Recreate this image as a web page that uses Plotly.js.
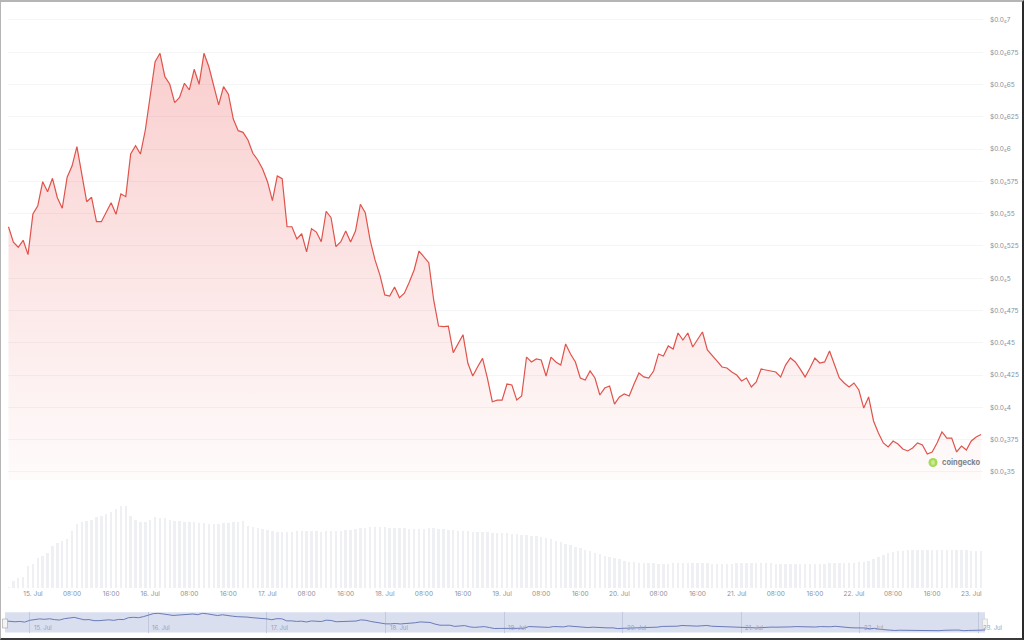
<!DOCTYPE html>
<html>
<head>
<meta charset="utf-8">
<script src="https://cdn.plot.ly/plotly-3.0.1.min.js"></script>
<style>
  html, body { margin: 0; padding: 0; background: #fff; }
  #wrap { position: relative; width: 1024px; height: 640px; }
  #chart { position: absolute; left: 0; top: 0; width: 1024px; height: 640px; }
  #frame { position: absolute; left: 0; top: 0; width: 1024px; height: 640px; box-sizing: border-box;
           border-left: 1px solid #b5b5b5; border-top: 2px solid #b5b5b5; border-right: 2px solid #2a2a2a; border-bottom: 2px solid #3a3a3a;
           pointer-events: none; }
</style>
</head>
<body>
<div id="wrap"><div id="chart"></div><div id="frame"></div></div>
<script>
// Hourly series starting 2024-07-14 19:00; price in units of $0.000001 (µ$)
const startTime = '2024-07-14 19:00';
const priceMicroUsd = [
  5.399, 5.279, 5.240, 5.294, 5.183, 5.498, 5.562, 5.748, 5.670, 5.774,
  5.624, 5.542, 5.782, 5.869, 6.019, 5.805, 5.593, 5.627, 5.438, 5.438,
  5.511, 5.585, 5.495, 5.653, 5.632, 5.962, 6.027, 5.962, 6.148, 6.419,
  6.677, 6.742, 6.561, 6.502, 6.360, 6.401, 6.510, 6.458, 6.618, 6.502,
  6.742, 6.638, 6.497, 6.342, 6.484, 6.425, 6.233, 6.143, 6.130, 6.071,
  5.968, 5.916, 5.846, 5.748, 5.601, 5.792, 5.771, 5.399, 5.399, 5.304,
  5.345, 5.204, 5.384, 5.358, 5.283, 5.519, 5.469, 5.245, 5.283, 5.366,
  5.281, 5.366, 5.573, 5.508, 5.296, 5.142, 5.025, 4.871, 4.863, 4.932,
  4.850, 4.884, 4.969, 5.064, 5.211, 5.167, 5.121, 4.832, 4.630, 4.625,
  4.630, 4.424, 4.497, 4.563, 4.342, 4.243, 4.315, 4.380, 4.225, 4.044,
  4.057, 4.057, 4.181, 4.174, 4.057, 4.088, 4.390, 4.352, 4.375, 4.367,
  4.243, 4.390, 4.352, 4.328, 4.491, 4.414, 4.352, 4.228, 4.212, 4.282,
  4.228, 4.096, 4.150, 4.166, 4.026, 4.081, 4.104, 4.088, 4.181, 4.267,
  4.236, 4.228, 4.282, 4.414, 4.398, 4.476, 4.452, 4.576, 4.522, 4.576,
  4.468, 4.522, 4.584, 4.445, 4.406, 4.359, 4.313, 4.305, 4.274, 4.251,
  4.205, 4.228, 4.158, 4.197, 4.297, 4.290, 4.282, 4.274, 4.236, 4.328,
  4.383, 4.352, 4.297, 4.236, 4.305, 4.383, 4.344, 4.352, 4.437, 4.328,
  4.228, 4.189, 4.158, 4.189, 4.135, 3.995, 4.081, 3.895, 3.802, 3.725,
  3.694, 3.740, 3.717, 3.678, 3.663, 3.686, 3.725, 3.709, 3.639, 3.655,
  3.725, 3.810, 3.763, 3.763, 3.655, 3.701, 3.670, 3.740, 3.771, 3.790
];
const volume = [
  1.3, 7.3, 9.7, 11.3, 21.7, 24, 29.7, 32.3, 34.7, 42.3,
  44.7, 47.3, 49, 57.3, 64, 65.7, 67.3, 68.3, 70.7, 72.3,
  74, 76.3, 79, 81.7, 82.3, 72.3, 68.3, 66.3, 65.7, 68.3,
  70.7, 70, 69.7, 68.3, 67.3, 67, 66, 65.7, 65.7, 65,
  64.7, 64, 64, 64.3, 65, 65.3, 65.7, 66, 66.7, 62.3,
  60.7, 59.7, 59, 58, 56.7, 55.7, 55.7, 56.3, 56.3, 56.7,
  57, 57, 57, 57, 56, 57, 57, 57, 57, 58, 58,
  59, 60, 60, 61, 61, 61, 61, 60, 60, 60, 60, 59, 59, 59, 59, 60, 60, 59, 59, 58,
  58, 57, 57, 57, 56, 56, 56, 56, 55, 55, 55, 55, 54, 54, 53, 53, 52, 52, 51, 50,
  49, 47, 46, 44, 43, 41, 40, 38, 37, 35, 34, 32, 31, 30, 29,
  27, 26, 26, 25, 25, 25, 25, 24, 24, 24, 25, 25, 25, 25, 25, 25, 25, 25, 24, 24,
  24, 24, 24, 25, 25, 25, 25, 25, 25, 25, 25, 24, 24, 24, 24, 24, 24, 24, 24, 24,
  24, 24, 25, 25, 25, 25, 25, 25, 26, 26, 27,
  29, 31, 33, 35, 36, 37, 37, 38, 38, 38, 38, 38, 38, 38, 38, 38, 38, 38, 38, 38, 37, 37, 37
];
const priceTickVals = [3.5, 3.75, 4, 4.25, 4.5, 4.75, 5, 5.25, 5.5, 5.75, 6, 6.25, 6.5, 6.75, 7];
const priceTickText = ['$0.0₅35', '$0.0₅375', '$0.0₅4', '$0.0₅425', '$0.0₅45', '$0.0₅475', '$0.0₅5',
  '$0.0₅525', '$0.0₅55', '$0.0₅575', '$0.0₅6', '$0.0₅625', '$0.0₅65', '$0.0₅675', '$0.0₅7'];
const timeTickVals = [
  '2024-07-15 00:00', '2024-07-15 08:00', '2024-07-15 16:00',
  '2024-07-16 00:00', '2024-07-16 08:00', '2024-07-16 16:00',
  '2024-07-17 00:00', '2024-07-17 08:00', '2024-07-17 16:00',
  '2024-07-18 00:00', '2024-07-18 08:00', '2024-07-18 16:00',
  '2024-07-19 00:00', '2024-07-19 08:00', '2024-07-19 16:00',
  '2024-07-20 00:00', '2024-07-20 08:00', '2024-07-20 16:00',
  '2024-07-21 00:00', '2024-07-21 08:00', '2024-07-21 16:00',
  '2024-07-22 00:00', '2024-07-22 08:00', '2024-07-22 16:00',
  '2024-07-23 00:00'
];
const timeTickText = [
  '15. Jul', '08:00', '16:00', '16. Jul', '08:00', '16:00', '17. Jul', '08:00', '16:00',
  '18. Jul', '08:00', '16:00', '19. Jul', '08:00', '16:00', '20. Jul', '08:00', '16:00',
  '21. Jul', '08:00', '16:00', '22. Jul', '08:00', '16:00', '23. Jul'
];
const navDayVals = ['2024-07-15 00:00', '2024-07-16 00:00', '2024-07-17 00:00', '2024-07-18 00:00',
  '2024-07-19 00:00', '2024-07-20 00:00', '2024-07-21 00:00', '2024-07-22 00:00', '2024-07-23 00:00'];
const navDayText = ['15. Jul', '16. Jul', '17. Jul', '18. Jul', '19. Jul', '20. Jul', '21. Jul', '22. Jul', '23. Jul'];

function pad(n) { return (n < 10 ? '0' : '') + n; }
function fmt(ms) {
  const d = new Date(ms);
  return d.getUTCFullYear() + '-' + pad(d.getUTCMonth() + 1) + '-' + pad(d.getUTCDate()) + ' ' +
         pad(d.getUTCHours()) + ':' + pad(d.getUTCMinutes());
}
const t0 = Date.UTC(2024, 6, 14, 19, 0);
const HOUR = 3600000;
const times = priceMicroUsd.map((_, i) => fmt(t0 + i * HOUR));
const vtimes = volume.map((_, i) => fmt(t0 + i * HOUR));

const mainRange = [fmt(t0 - 0.1 * HOUR), fmt(t0 + 199.4 * HOUR)];
const navRange = [fmt(t0), fmt(t0 + 198.3 * HOUR)];

const traces = [
  {
    type: 'bar', x: vtimes, y: volume, xaxis: 'x', yaxis: 'y2',
    marker: { color: '#eff0f3', line: { width: 0 } }, width: 0.5 * HOUR, hoverinfo: 'skip'
  },
  {
    type: 'scatter', mode: 'lines', x: times, y: priceMicroUsd, xaxis: 'x', yaxis: 'y',
    line: { color: '#e0534b', width: 1.2 },
    fill: 'tozeroy',
    fillgradient: { type: 'vertical', start: 3.44, stop: 6.75,
      colorscale: [[0, 'rgba(234,67,67,0.02)'], [1, 'rgba(234,67,67,0.26)']] },
    hoverinfo: 'skip'
  },
  {
    type: 'scatter', mode: 'lines', x: times, y: priceMicroUsd, xaxis: 'x2', yaxis: 'y3',
    line: { color: '#5b6fb3', width: 0.9 }, hoverinfo: 'skip'
  }
];

const px = v => (v - 5) / 980;      // pixel x -> paper x
const py = v => (640 - v) / 640;    // pixel y -> paper y

const annotations = navDayVals.map((d, i) => ({
  x: d, xref: 'x2', y: py(627), yref: 'paper', text: navDayText[i], showarrow: false,
  xanchor: 'left', yanchor: 'middle', xshift: 2,
  font: { family: 'Inter, Lato, sans-serif', size: 6, color: '#9aa0b8' }
}));
annotations.push({
  x: px(940), y: py(462.5), xref: 'paper', yref: 'paper', text: '<b>coingecko</b>', showarrow: false,
  xanchor: 'left', yanchor: 'middle', font: { family: 'Inter, Lato, sans-serif', size: 7.5, color: '#7d8189' }
});

const layout = {
  width: 1024, height: 640,
  margin: { l: 5, r: 39, t: 0, b: 0 },
  paper_bgcolor: '#ffffff', plot_bgcolor: 'rgba(0,0,0,0)',
  showlegend: false,
  bargap: 0,
  font: { family: 'Inter, Lato, sans-serif' },
  xaxis: {
    domain: [px(8), px(983)], anchor: 'y2', type: 'date', range: mainRange,
    tickmode: 'array', tickvals: timeTickVals, ticktext: timeTickText,
    tickfont: { size: 6.5, color: '#8a8f98' }, showgrid: false, zeroline: false, showline: false,
    ticks: '', fixedrange: true
  },
  yaxis: {
    domain: [py(480), py(5)], anchor: 'x', side: 'right', range: [3.438, 7.116],
    tickmode: 'array', tickvals: priceTickVals, ticktext: priceTickText,
    tickfont: { size: 6.5, color: '#8a8f98' }, gridcolor: '#f4f5f7', gridwidth: 1,
    ticklabelstandoff: 6,
    zeroline: false, showline: false, ticks: '', fixedrange: true
  },
  yaxis2: {
    domain: [py(588), py(500)], anchor: 'x', range: [0, 88], visible: false, fixedrange: true
  },
  xaxis2: {
    domain: [0, 1], anchor: 'y3', type: 'date', range: navRange,
    tickmode: 'array', tickvals: navDayVals, showticklabels: false,
    showgrid: true, gridcolor: '#c3c9dd', gridwidth: 1, zeroline: false, showline: false, ticks: '',
    fixedrange: true
  },
  yaxis3: {
    domain: [py(632.5), py(612.3)], anchor: 'x2', range: [3.335, 6.92], visible: false, fixedrange: true
  },
  shapes: [
    { type: 'rect', xref: 'paper', yref: 'paper', x0: 0, x1: 1, y0: py(632.5), y1: py(612.3),
      fillcolor: '#dadfef', line: { width: 0 }, layer: 'below' },
    { type: 'rect', xref: 'paper', yref: 'paper', x0: px(2.5), x1: px(7.5), y0: py(628), y1: py(619),
      fillcolor: '#f4f4f4', line: { color: '#aaaaaa', width: 0.7 } },
    { type: 'rect', xref: 'paper', yref: 'paper', x0: px(982.5), x1: px(987.5), y0: py(628), y1: py(619),
      fillcolor: '#f4f4f4', line: { color: '#cccccc', width: 0.7 } },
    { type: 'circle', xref: 'paper', yref: 'paper', x0: px(928.5), x1: px(937.5), y0: py(467), y1: py(458),
      fillcolor: '#a6d95a', line: { width: 0 } },
    { type: 'circle', xref: 'paper', yref: 'paper', x0: px(931), x1: px(935), y0: py(465), y1: py(460),
      fillcolor: '#c9ec8f', line: { width: 0 } }
  ],
  annotations: annotations
};

Plotly.newPlot('chart', traces, layout, { displayModeBar: false, staticPlot: true });
</script>
</body>
</html>
